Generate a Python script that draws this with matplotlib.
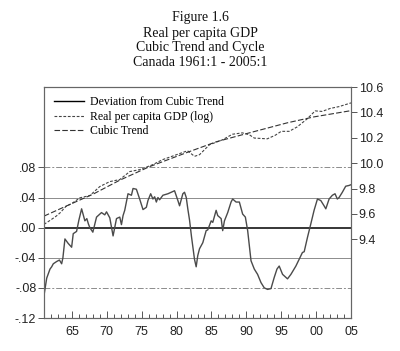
import matplotlib
matplotlib.use("Agg")
import matplotlib.pyplot as plt
import matplotlib.ticker as ticker
from matplotlib.lines import Line2D

# ── Desvio em relação à tendência cúbica (eixo esquerdo) ─────────────────────
dev_anos = [1961.00, 1961.39, 1961.86, 1962.10, 1962.33, 1962.81, 1963.21, 1963.53,
            1963.71, 1964.00, 1964.47, 1964.96, 1965.19, 1965.67, 1966.00, 1966.39,
            1966.86, 1967.14, 1967.36, 1967.57, 1968.00, 1968.53, 1969.24, 1969.71,
            1969.96, 1970.43, 1970.90, 1971.39, 1971.61, 1971.86, 1972.10, 1972.33,
            1972.57, 1973.04, 1973.53, 1973.76, 1974.24, 1974.71, 1975.19, 1975.67,
            1975.90, 1976.29, 1976.61, 1976.86, 1977.10, 1977.33, 1977.57, 1978.04,
            1978.76, 1979.24, 1979.71, 1980.19, 1980.43, 1980.90, 1981.14, 1981.39,
            1981.61, 1981.86, 1982.14, 1982.57, 1982.81, 1983.04, 1983.29, 1983.76,
            1984.24, 1984.47, 1984.96, 1985.19, 1985.67, 1985.90, 1986.39, 1986.61,
            1986.86, 1987.33, 1987.81, 1988.04, 1988.53, 1989.00, 1989.47, 1989.86,
            1990.19, 1990.67, 1991.14, 1991.61, 1992.10, 1992.57, 1993.04, 1993.53,
            1994.00, 1994.39, 1994.71, 1995.19, 1995.90, 1996.39, 1997.10, 1997.57,
            1998.04, 1998.29, 1998.76, 1999.24, 1999.71, 2000.19, 2000.67, 2001.14,
            2001.39, 2001.86, 2002.33, 2002.71, 2003.04, 2003.29, 2003.76, 2004.24,
            2004.71, 2005.00]
dev_valores = [-0.090, -0.067, -0.055, -0.052, -0.048, -0.045, -0.043, -0.048,
               -0.040, -0.015, -0.021, -0.026, -0.008, -0.005, 0.010, 0.025,
               0.009, 0.012, 0.005, 0.000, -0.006, 0.014, 0.020, 0.017,
               0.021, 0.013, -0.011, 0.012, 0.013, 0.014, 0.004, 0.016,
               0.023, 0.045, 0.043, 0.052, 0.051, 0.038, 0.024, 0.027,
               0.036, 0.045, 0.038, 0.041, 0.034, 0.040, 0.037, 0.043,
               0.045, 0.047, 0.049, 0.036, 0.029, 0.045, 0.047, 0.040,
               0.025, 0.010, -0.012, -0.042, -0.052, -0.037, -0.028, -0.020,
               -0.004, -0.003, 0.009, 0.007, 0.023, 0.016, 0.012, -0.004,
               0.009, 0.020, 0.034, 0.038, 0.034, 0.034, 0.018, 0.014,
               -0.004, -0.044, -0.055, -0.062, -0.073, -0.080, -0.082, -0.081,
               -0.066, -0.055, -0.051, -0.062, -0.068, -0.062, -0.051, -0.042,
               -0.033, -0.032, -0.013, 0.005, 0.023, 0.038, 0.036, 0.029,
               0.025, 0.038, 0.043, 0.045, 0.038, 0.040, 0.047, 0.055,
               0.056, 0.057]

# ── PIB real per capita (log) (eixo direito) ─────────────────────────────────
pib_anos = [1961.00, 1961.86, 1962.71, 1963.29, 1964.14, 1965.00, 1966.14, 1967.57,
            1969.00, 1970.43, 1971.86, 1973.29, 1974.71, 1976.57, 1978.00, 1980.00,
            1981.57, 1982.57, 1983.29, 1984.71, 1986.57, 1988.00, 1989.43, 1990.43,
            1991.14, 1993.00, 1994.14, 1995.00, 1996.14, 1997.29, 1998.71, 1999.86,
            2000.86, 2002.00, 2003.29, 2005.00]
pib_valores = [9.518, 9.549, 9.581, 9.608, 9.659, 9.683, 9.727, 9.745,
               9.816, 9.855, 9.871, 9.934, 9.949, 9.988, 10.028, 10.067,
               10.098, 10.054, 10.067, 10.145, 10.184, 10.228, 10.239, 10.224,
               10.198, 10.192, 10.220, 10.251, 10.251, 10.286, 10.349, 10.412,
               10.408, 10.431, 10.446, 10.475]

# ── Tendência cúbica (eixo direito) ──────────────────────────────────────────
tend_anos = [1961.00, 1964.71, 1968.00, 1971.86, 1976.14, 1981.43, 1985.71,
             1990.43, 1995.86, 1999.71, 2005.00]
tend_valores = [9.583, 9.675, 9.755, 9.866, 9.973, 10.083, 10.169,
                10.239, 10.318, 10.365, 10.414]

legendas = ["Deviation from Cubic Trend", "Real per capita GDP (log)", "Cubic Trend"]
titulo = ["Figure 1.6", "Real per capita GDP", "Cubic Trend and Cycle",
          "Canada 1961:1 - 2005:1"]

SERIF = ["Liberation Serif", "DejaVu Serif"]
SANS = ["Liberation Sans", "DejaVu Sans"]

ESTILO_PIB = (0, (2.5, 1.5))
ESTILO_TEND = (0, (5, 2))

fig = plt.figure(figsize=(4.0, 3.51), dpi=100)
ax = fig.add_axes([0.11, 0.094, 0.7675, 0.658])
ax2 = ax.twinx()

# ── Linhas de referência ─────────────────────────────────────────────────────
ax.axhline(0.0, color="black", lw=1.1, zorder=2)
for v in (0.04, -0.04):
    ax.axhline(v, color="#8c8c8c", lw=0.7, zorder=1)
for v in (0.08, -0.08):
    ax.axhline(v, color="#8c8c8c", lw=0.7, ls=(0, (6, 2, 2, 2)), zorder=1)

ax.plot(dev_anos, dev_valores, color="#4a4a4a", lw=1.0, zorder=3)
ax2.plot(pib_anos, pib_valores, color="#444444", lw=0.8, ls=ESTILO_PIB)
ax2.plot(tend_anos, tend_valores, color="#333333", lw=0.8, ls=ESTILO_TEND)

ax.set_xlim(1961, 2005)
ax.set_ylim(-0.12, 0.1867)
ax2.set_ylim(8.78, 10.6)

# ── Eixos ────────────────────────────────────────────────────────────────────
ax.set_yticks([-0.12, -0.08, -0.04, 0.0, 0.04, 0.08])
ax.yaxis.set_major_formatter(ticker.FuncFormatter(
    lambda v, _: (f"{v:.2f}").replace("0.", ".")))
ax2.set_yticks([9.4, 9.6, 9.8, 10.0, 10.2, 10.4, 10.6])
ax2.yaxis.set_major_formatter(ticker.FormatStrFormatter("%.1f"))

ax.set_xticks([1965, 1970, 1975, 1980, 1985, 1990, 1995, 2000, 2005])
ax.xaxis.set_major_formatter(ticker.FuncFormatter(lambda v, _: f"{int(v) % 100:02d}"))
ax.xaxis.set_minor_locator(ticker.MultipleLocator(1))

ax.tick_params(axis="x", which="major", direction="in", length=5, width=0.7,
               colors="#555555", labelcolor="#222222", labelsize=9, pad=6)
ax.tick_params(axis="x", which="minor", direction="in", length=3, width=0.7,
               colors="#555555")
ax.tick_params(axis="y", direction="out", length=4, width=0.7, colors="#555555",
               labelcolor="#222222", labelsize=9, pad=1.5)
ax2.tick_params(axis="y", direction="out", length=4, width=0.7, colors="#555555",
                labelcolor="#222222", labelsize=9, pad=1.5)

for a in (ax, ax2):
    for lbl in a.get_xticklabels() + a.get_yticklabels():
        lbl.set_family(SANS)
    for s in a.spines.values():
        s.set_color("#666666")
        s.set_linewidth(0.8)

# ── Legenda ──────────────────────────────────────────────────────────────────
alcas = [Line2D([], [], color="black", lw=1.0),
         Line2D([], [], color="#444444", lw=0.8, ls=ESTILO_PIB),
         Line2D([], [], color="#333333", lw=0.8, ls=ESTILO_TEND)]
ax.legend(alcas, legendas, loc="upper left", bbox_to_anchor=(0.033, 0.96),
          frameon=False, borderpad=0, borderaxespad=0, handlelength=2.5,
          handletextpad=0.5, labelspacing=0.2,
          prop={"family": SERIF, "size": 8.5})

# ── Título ───────────────────────────────────────────────────────────────────
for i, linha in enumerate(titulo):
    fig.text(0.5, 1 - (18 + 15 * i) / 351, linha, ha="center", va="center",
             family=SERIF, fontsize=10, color="#111111")

plt.savefig("out.png", dpi=100)
plt.close()
